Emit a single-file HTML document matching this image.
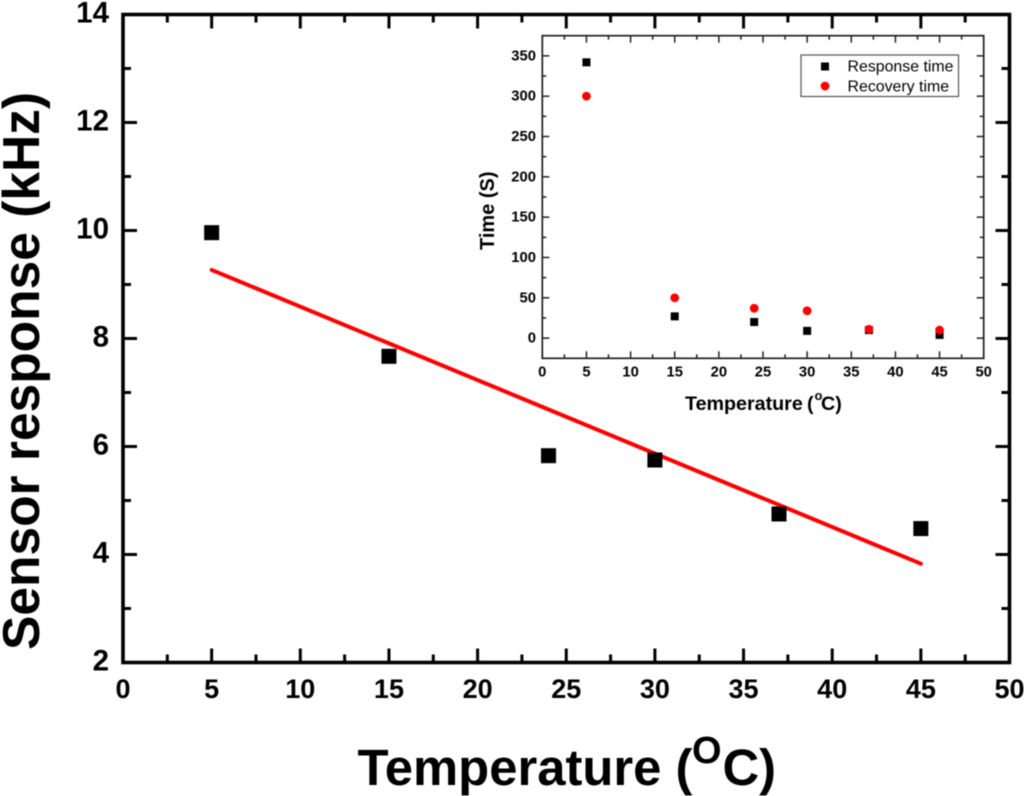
<!DOCTYPE html>
<html lang="en">
<head>
<meta charset="utf-8">
<title>Sensor response vs temperature</title>
<style>
html,body{margin:0;padding:0;background:#fff;}
body{width:1024px;height:796px;overflow:hidden;}
svg{display:block;font-family:"Liberation Sans",Arial,sans-serif;filter:blur(0.45px);}
text{fill:#000;}
</style>
</head>
<body>
<svg id="chart" xmlns="http://www.w3.org/2000/svg" width="1024" height="796" viewBox="0 0 1024 796">
  <rect x="0" y="0" width="1024" height="796" fill="#fff"/>
  <g id="main"></g>
  <g id="inset"></g>
  <text y="785" font-size="50.8" font-weight="700"><tspan x="357.5">Temperature</tspan> <tspan x="675.5">(</tspan><tspan x="692" y="763" font-size="38">O</tspan><tspan x="722.5" y="785">C)</tspan></text>
  <text transform="translate(39,650) rotate(-90)" font-size="51.5" font-weight="700">Sensor response (kHz)</text>
  <text y="410" font-size="19.7" font-weight="700"><tspan x="685">Temperature</tspan> <tspan x="807">(</tspan><tspan x="814.5" y="400" font-size="13">o</tspan><tspan x="821" y="410">C)</tspan></text>
  <text transform="translate(494,250) rotate(-90)" font-size="20" font-weight="700">Time (S)</text>
  <g>
    <rect x="801" y="55" width="157.5" height="41.5" fill="#fff" stroke="#555" stroke-width="1.2"/>
    <rect x="821" y="62.5" width="8" height="8" fill="#000"/>
    <circle cx="825" cy="86" r="4.4" fill="#f00"/>
    <text x="847.5" y="71.7" font-size="15.9">Response time</text>
    <text x="847.5" y="91.3" font-size="15.9">Recovery time</text>
  </g>
</svg>
<script>
const NS = 'http://www.w3.org/2000/svg';

const temperatures = [5, 15, 24, 30, 37, 45];
const sensorResponse = [9.96, 7.67, 5.83, 5.75, 4.75, 4.48];
const fitTemperatures = [5, 45];
const fitResponse = [9.27, 3.83];
const responseTime = [342, 27, 20, 9, 10, 4];
const recoveryTime = [300, 50, 37, 34, 11, 10];

const mainXTicks = [0, 5, 10, 15, 20, 25, 30, 35, 40, 45, 50];
const mainXMinorTicks = [2.5, 7.5, 12.5, 17.5, 22.5, 27.5, 32.5, 37.5, 42.5, 47.5];
const mainYTicks = [2, 4, 6, 8, 10, 12, 14];
const mainYMinorTicks = [3, 5, 7, 9, 11, 13];
const insetXTicks = [0, 5, 10, 15, 20, 25, 30, 35, 40, 45, 50];
const insetXMinorTicks = [2.5, 7.5, 12.5, 17.5, 22.5, 27.5, 32.5, 37.5, 42.5, 47.5];
const insetYTicks = [0, 50, 100, 150, 200, 250, 300, 350];
const insetYMinorTicks = [-25, 25, 75, 125, 175, 225, 275, 325, 375];

function node(parent, tag, attrs, text) {
  const el = document.createElementNS(NS, tag);
  for (const k in attrs) el.setAttribute(k, attrs[k]);
  if (text !== undefined) el.textContent = text;
  parent.appendChild(el);
  return el;
}

function scale(d0, d1, r0, r1) {
  return v => r0 + (v - d0) * (r1 - r0) / (d1 - d0);
}

/* ---------- main plot ---------- */
const mainGroup = document.getElementById('main');
const mx = scale(0, 50, 123, 1009.5);
const my = scale(2, 14, 662.5, 14.5);
const mainStroke = 3.6;

mainXTicks.forEach(t => {
  const tick = node(mainGroup, 'line', {x1: mx(t), x2: mx(t), y1: my(2), y2: my(2) - 14, stroke: '#000', 'stroke-width': 3});
  
  
  const top = node(mainGroup, 'line', {x1: mx(t), x2: mx(t), y1: my(14), y2: my(14) + 14, stroke: '#000', 'stroke-width': 3});
  
  
  const label = node(mainGroup, 'text', {x: mx(t), y: 698, 'text-anchor': 'middle', 'font-size': 27, 'font-weight': 700}, String(t));
  
  
});
mainXMinorTicks.forEach(t => {
  const tick = node(mainGroup, 'line', {x1: mx(t), x2: mx(t), y1: my(2), y2: my(2) - 8, stroke: '#000', 'stroke-width': 3});
  
  
  const top = node(mainGroup, 'line', {x1: mx(t), x2: mx(t), y1: my(14), y2: my(14) + 8, stroke: '#000', 'stroke-width': 3});
  
  
});
mainYTicks.forEach(t => {
  const tick = node(mainGroup, 'line', {x1: mx(0), x2: mx(0) + 14, y1: my(t), y2: my(t), stroke: '#000', 'stroke-width': 3});
  
  
  const right = node(mainGroup, 'line', {x1: mx(50), x2: mx(50) - 14, y1: my(t), y2: my(t), stroke: '#000', 'stroke-width': 3});
  
  
  const label = node(mainGroup, 'text', {x: 109, y: my(t) + 8, 'text-anchor': 'end', 'font-size': 29.5, 'font-weight': 700}, String(t));
  
  
});
mainYMinorTicks.forEach(t => {
  const tick = node(mainGroup, 'line', {x1: mx(0), x2: mx(0) + 8, y1: my(t), y2: my(t), stroke: '#000', 'stroke-width': 3});
  
  
  const right = node(mainGroup, 'line', {x1: mx(50), x2: mx(50) - 8, y1: my(t), y2: my(t), stroke: '#000', 'stroke-width': 3});
  
  
});

const mainFrame = node(mainGroup, 'rect', {x: mx(0), y: my(14), width: mx(50) - mx(0), height: my(2) - my(14), fill: 'none', stroke: '#000', 'stroke-width': mainStroke});



const fitPoints = fitTemperatures.map((t, i) => mx(t) + ',' + my(fitResponse[i])).join(' ');
const fitLine = node(mainGroup, 'polyline', {points: fitPoints, fill: 'none', stroke: '#f00', 'stroke-width': 4, 'stroke-linecap': 'round'});



temperatures.forEach((t, i) => {
  const s = 15;
  const p = node(mainGroup, 'rect', {x: mx(t) - s / 2, y: my(sensorResponse[i]) - s / 2, width: s, height: s, fill: '#000'});
  
  
});

/* ---------- inset plot ---------- */
const insetGroup = document.getElementById('inset');
const ix = scale(0, 50, 542.3, 983.7);
const iy = scale(-25, 375, 358.3, 35.7);

insetXTicks.forEach(t => {
  const tick = node(insetGroup, 'line', {x1: ix(t), x2: ix(t), y1: iy(-25), y2: iy(-25) - 7, stroke: '#222', 'stroke-width': 1.5});
  
  
  const top = node(insetGroup, 'line', {x1: ix(t), x2: ix(t), y1: iy(375), y2: iy(375) + 7, stroke: '#222', 'stroke-width': 1.5});
  
  
  const label = node(insetGroup, 'text', {x: ix(t), y: 376.5, 'text-anchor': 'middle', 'font-size': 14.8, 'font-weight': 700}, String(t));
  
  
});
insetXMinorTicks.forEach(t => {
  const tick = node(insetGroup, 'line', {x1: ix(t), x2: ix(t), y1: iy(-25), y2: iy(-25) - 4, stroke: '#222', 'stroke-width': 1.5});
  
  
  const top = node(insetGroup, 'line', {x1: ix(t), x2: ix(t), y1: iy(375), y2: iy(375) + 4, stroke: '#222', 'stroke-width': 1.5});
  
  
});
insetYTicks.forEach(t => {
  const tick = node(insetGroup, 'line', {x1: ix(0), x2: ix(0) + 7, y1: iy(t), y2: iy(t), stroke: '#222', 'stroke-width': 1.5});
  
  
  const right = node(insetGroup, 'line', {x1: ix(50), x2: ix(50) - 7, y1: iy(t), y2: iy(t), stroke: '#222', 'stroke-width': 1.5});
  
  
  const label = node(insetGroup, 'text', {x: 536, y: iy(t) + 4.5, 'text-anchor': 'end', 'font-size': 14.8, 'font-weight': 700}, String(t));
  
  
});
insetYMinorTicks.forEach(t => {
  const tick = node(insetGroup, 'line', {x1: ix(0), x2: ix(0) + 4, y1: iy(t), y2: iy(t), stroke: '#222', 'stroke-width': 1.5});
  
  
  const right = node(insetGroup, 'line', {x1: ix(50), x2: ix(50) - 4, y1: iy(t), y2: iy(t), stroke: '#222', 'stroke-width': 1.5});
  
  
});

const insetFrame = node(insetGroup, 'rect', {x: ix(0), y: iy(375), width: ix(50) - ix(0), height: iy(-25) - iy(375), fill: 'none', stroke: '#222', 'stroke-width': 1.7});



temperatures.forEach((t, i) => {
  const s = 8;
  const p = node(insetGroup, 'rect', {x: ix(t) - s / 2, y: iy(responseTime[i]) - s / 2, width: s, height: s, fill: '#000'});
  
  
});
temperatures.forEach((t, i) => {
  const c = node(insetGroup, 'circle', {cx: ix(t), cy: iy(recoveryTime[i]), r: 4.4, fill: '#f00'});
  
  
});
</script>
</body>
</html>
